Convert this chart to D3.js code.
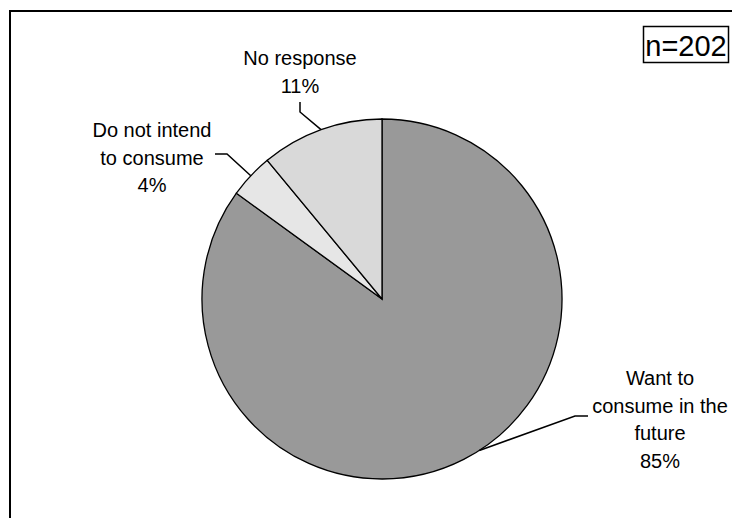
<!DOCTYPE html>
<html>
<head>
<meta charset="utf-8">
<script src="https://cdn.jsdelivr.net/npm/d3@7"></script>
<style>
  body { margin: 0; background: #fff; }
  svg { display: block; }
</style>
</head>
<body>
<script>
// slices, clockwise from 12 o'clock
const categories = ["Want to consume in the future", "Do not intend to consume", "No response"];
const values = [85, 4, 11];
const labelLines = [
    ["Want to", "consume in the", "future"],
    ["Do not intend", "to consume"],
    ["No response"]
];
const sampleSize = "n=202";

const width = 732, height = 518;
const cx = 382, cy = 299, r = 180;
const colors = ["#999999", "#e6e6e6", "#d9d9d9"];

// label placement (layout only): centre x, first baseline, leader start points
const labelPos = [
    { x: 660, y: 385, leader: [[588, 416], [575, 416]] },
    { x: 152, y: 137, leader: [[215, 154], [227, 154]] },
    { x: 300, y: 65, leader: [[300, 102], [300, 112]] }
];
const lineH = 27.5;

const svg = d3.select("body").append("svg")
    .attr("width", width)
    .attr("height", height)
    .style("font-family", "'Liberation Sans', Arial, sans-serif");

// outer frame (runs off the right and bottom)
svg.append("rect")
    .attr("x", 10).attr("y", 11)
    .attr("width", 740).attr("height", 540)
    .attr("fill", "none")
    .attr("stroke", "#000")
    .attr("stroke-width", 2);

const data = categories.map((c, i) => ({ name: c, value: values[i], i: i }));

const pie = d3.pie()
    .sort(null)
    .value(d => d.value);

const arcs = pie(data);
const arc = d3.arc().innerRadius(0).outerRadius(r);

const g = svg.append("g").attr("transform", `translate(${cx},${cy})`);

g.selectAll("path")
    .data(arcs)
    .join("path")
    .attr("d", arc)
    .attr("fill", d => colors[d.data.i])
    .attr("stroke", "#000")
    .attr("stroke-width", 1.3)
    .attr("stroke-linejoin", "miter");

// leader lines
const line = d3.line();
arcs.forEach((d, i) => {
    let a = (d.startAngle + d.endAngle) / 2;
    if (i === 0) a -= 0.1; // Excel pulled this one up a little
    const p = [cx + r * Math.sin(a), cy - r * Math.cos(a)];
    const pts = labelPos[i].leader.concat([p]);
    svg.append("path")
        .attr("d", line(pts))
        .attr("fill", "none")
        .attr("stroke", "#000")
        .attr("stroke-width", 1.5);
});

// labels
const fmt = d3.format(".0f");
const labels = svg.append("g")
    .attr("font-size", 20)
    .attr("text-anchor", "middle")
    .attr("fill", "#000");

arcs.forEach((d, i) => {
    const lines = labelLines[i].concat([fmt(d.data.value) + "%"]);
    const t = labels.append("text");
    lines.forEach((s, k) => {
        t.append("tspan")
            .attr("x", labelPos[i].x)
            .attr("y", labelPos[i].y + k * lineH)
            .text(s);
    });
});

// sample size box
svg.append("rect")
    .attr("x", 643.5).attr("y", 26.5)
    .attr("width", 85).attr("height", 36)
    .attr("fill", "#fff")
    .attr("stroke", "#000")
    .attr("stroke-width", 1.5);

svg.append("text")
    .attr("x", 686)
    .attr("y", 56)
    .attr("text-anchor", "middle")
    .attr("font-size", 29)
    .text(sampleSize);
</script>
</body>
</html>
